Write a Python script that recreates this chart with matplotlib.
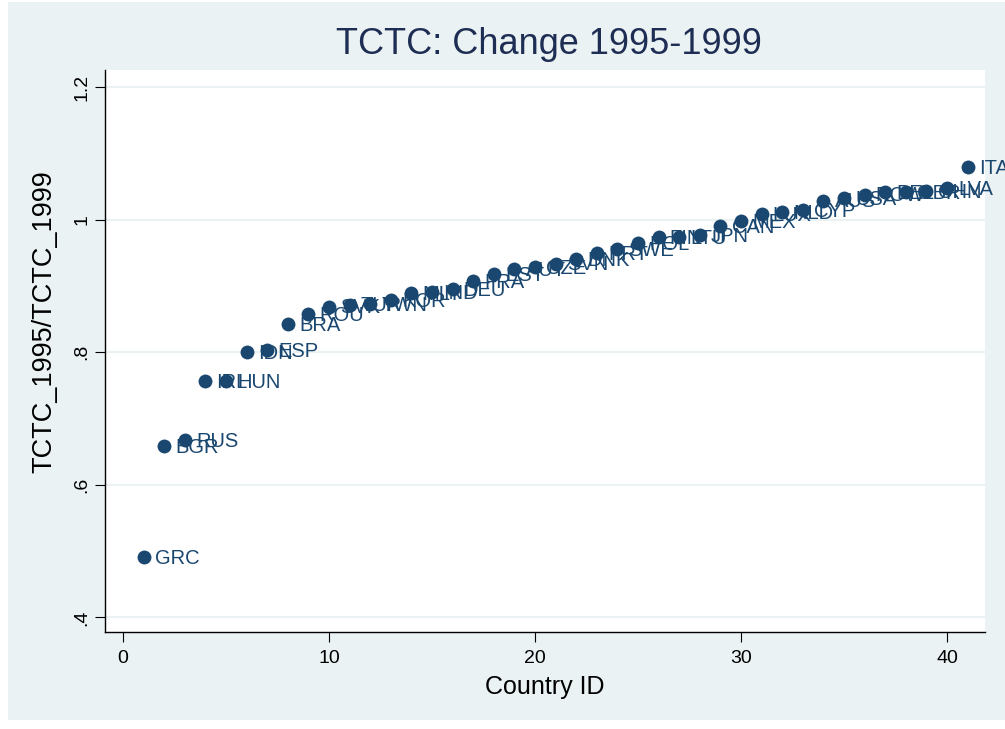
import matplotlib
matplotlib.use("Agg")
import matplotlib.pyplot as plt
from matplotlib.patches import Rectangle

plt.rcParams['font.family'] = ['Liberation Sans', 'DejaVu Sans']

country_id = list(range(1, 42))
countries = ["GRC", "BGR", "RUS", "IRL", "HUN", "IDN", "ESP", "BRA", "ROU", "SVK",
             "TUR", "TWN", "KOR", "MLT", "IND", "DEU", "FRA", "EST", "AUT", "CZE",
             "SVN", "DNK", "PRT", "SWE", "POL", "FIN", "LTU", "JPN", "CAN", "MEX",
             "LUX", "NLD", "CYP", "AUS", "USA", "ROW", "BEL", "GBR", "CHN", "LVA", "ITA"]
ratio = [0.491, 0.659, 0.668, 0.757, 0.757, 0.800, 0.803, 0.842, 0.858, 0.869,
         0.872, 0.873, 0.879, 0.890, 0.891, 0.896, 0.908, 0.918, 0.925, 0.929,
         0.934, 0.941, 0.950, 0.956, 0.965, 0.974, 0.974, 0.977, 0.991, 0.998,
         1.008, 1.011, 1.015, 1.029, 1.033, 1.038, 1.042, 1.042, 1.044, 1.048, 1.080]
yticks = [0.4, 0.6, 0.8, 1.0, 1.2]
ytick_labels = [".4", ".6", ".8", "1", "1.2"]
xticks = [0, 10, 20, 30, 40]

bg = "#EAF2F3"
navy = "#1a476f"

fig = plt.figure(figsize=(10.05, 7.29), dpi=100, facecolor="white")
bgrect = Rectangle((8/1005, 9/729), 1 - 8/1005, 1 - 11/729,
                   transform=fig.transFigure, facecolor=bg,
                   edgecolor="none", zorder=-10)
fig.add_artist(bgrect)
ax = fig.add_axes([105/1005, (729-632)/729, 880/1005, 562/729])
ax.set_zorder(1)
ax.set_facecolor("white")

ax.scatter(country_id, ratio, s=100, color=navy, zorder=3, linewidths=0)
for xi, yi, lab in zip(country_id, ratio, countries):
    ax.annotate(lab, (xi, yi), xytext=(8, -1), textcoords="offset points",
                ha="left", va="center", fontsize=14.5, color=navy, zorder=4,
                annotation_clip=False)

ax.set_xlim(-0.874, 41.84)
ax.set_ylim(0.378, 1.226)
ax.set_yticks(yticks)
ax.set_yticklabels(ytick_labels, rotation=90, va="center")
ax.set_xticks(xticks)
ax.tick_params(axis="both", labelsize=14, length=7, color="black", labelcolor="black")
ax.tick_params(axis="x", pad=6)
ax.grid(axis="y", color=bg, linewidth=1.5, zorder=0)
ax.set_axisbelow(True)
for s in ["top", "right"]:
    ax.spines[s].set_visible(False)
for s in ["left", "bottom"]:
    ax.spines[s].set_color("black")
    ax.spines[s].set_linewidth(1)

ax.set_xlabel("Country ID", fontsize=18, labelpad=6)
ax.set_ylabel("TCTC_1995/TCTC_1999", fontsize=19.5)
ax.yaxis.set_label_coords(-0.054, 0.553)
fig.text(549/1005, 1 - 45/729, "TCTC: Change 1995-1999", ha="center", va="center",
         fontsize=26, color="#1e2d53")

fig.savefig("out.png", dpi=100, facecolor=fig.get_facecolor())
